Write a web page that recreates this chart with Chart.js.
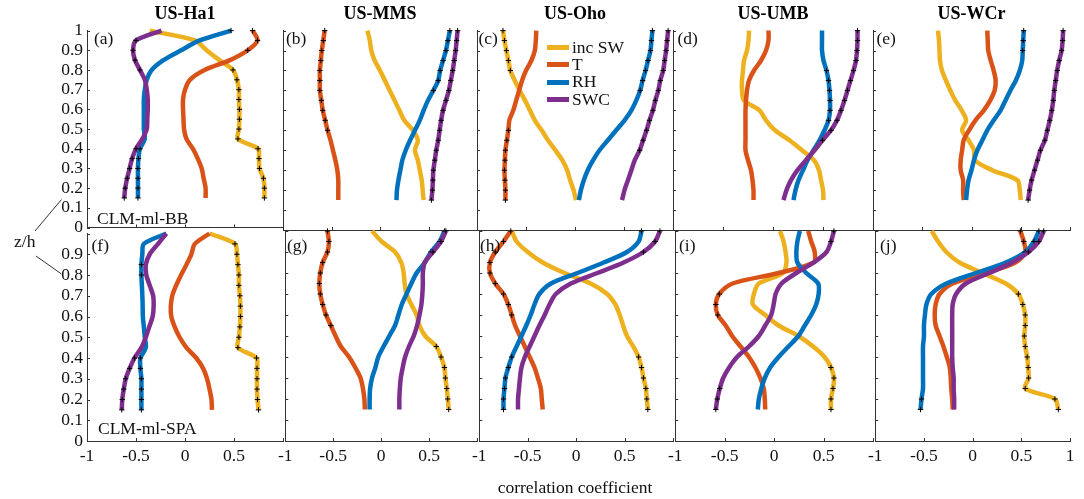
<!DOCTYPE html>
<html lang="en">
<head>
<meta charset="UTF-8">
<title>Correlation with z/h: CLM-ml-BB and CLM-ml-SPA</title>
<script src="https://cdn.jsdelivr.net/npm/chart.js"></script>
<style>
    body { margin: 0; background: #fff; font-family: 'Liberation Serif', 'Times New Roman', serif; color: #111; }
    #fig { position: relative; width: 1084px; height: 499px; overflow: hidden; }
    .panel { position: absolute; }
    .note { position: absolute; font-size: 17.5px; line-height: 1; white-space: nowrap; transform: translateY(-50%); }
    .center { transform: translate(-50%, -50%); }
    .legend { position: absolute; left: 547px; top: 38.6px; font-size: 17.5px; line-height: 1; }
    .legend div { display: flex; align-items: center; height: 17.4px; white-space: nowrap; }
    .legend span.swatch { display: inline-block; width: 21.5px; height: 5px; margin-right: 3.5px; }
    svg { position: absolute; left: 0; top: 0; }
</style>
</head>
<body>
<div id="fig">
    <svg width="1084" height="499">
        <line x1="35" y1="231" x2="61.5" y2="199.5" stroke="#333" stroke-width="1"/>
        <line x1="36" y1="256" x2="61.5" y2="274" stroke="#333" stroke-width="1"/>
    </svg>
    <div class="note" style="left:14px; top:242px;">z/h</div>
    <div class="note" style="left:97px; top:219px;">CLM-ml-BB</div>
    <div class="note" style="left:98px; top:429px;">CLM-ml-SPA</div>
    <div class="note center" style="left:575px; top:488px;">correlation coefficient</div>
    <div class="legend" id="legend"></div>
</div>

<script>
// z/h levels (shared by all profiles)
const ZH = [1.0, 0.95, 0.9, 0.85, 0.8, 0.75, 0.7, 0.65, 0.6, 0.55, 0.5, 0.45, 0.4, 0.35, 0.3, 0.25, 0.2, 0.15];

const SITES = ['US-Ha1', 'US-MMS', 'US-Oho', 'US-UMB', 'US-WCr'];
const MODELS = ['CLM-ml-BB', 'CLM-ml-SPA'];
const VARS = ['inc SW', 'T', 'RH', 'SWC'];
const COLORS = ['#EDB120', '#D95319', '#0072BD', '#7E2F8E'];
const TAGS = ['(a)', '(b)', '(c)', '(d)', '(e)', '(f)', '(g)', '(h)', '(i)', '(j)'];

// ---- CLM-ml-BB (top row) ----
const ha1_bb_sw  = [-0.36, 0.10, 0.22, 0.35, 0.49, 0.53, 0.55, 0.55, 0.555, 0.555, 0.55, 0.54, 0.745, 0.755, 0.76, 0.80, 0.81, 0.81];
const ha1_bb_t   = [0.69, 0.74, 0.64, 0.46, 0.20, 0.05, 0.0, -0.02, -0.02, -0.015, -0.01, 0.015, 0.08, 0.13, 0.17, 0.19, 0.21, 0.21];
const ha1_bb_rh  = [0.47, 0.15, -0.04, -0.22, -0.34, -0.39, -0.41, -0.42, -0.42, -0.42, -0.42, -0.41, -0.46, -0.475, -0.48, -0.48, -0.48, -0.48];
const ha1_bb_swc = [-0.24, -0.50, -0.53, -0.51, -0.46, -0.41, -0.39, -0.38, -0.38, -0.385, -0.39, -0.435, -0.50, -0.54, -0.565, -0.59, -0.61, -0.62];

const mms_bb_sw  = [-0.13, -0.105, -0.09, -0.055, 0.0, 0.05, 0.10, 0.15, 0.20, 0.25, 0.34, 0.39, 0.36, 0.39, 0.41, 0.43, 0.44, 0.45];
const mms_bb_t   = [-0.57, -0.585, -0.60, -0.61, -0.62, -0.62, -0.62, -0.605, -0.59, -0.565, -0.54, -0.51, -0.485, -0.46, -0.44, -0.43, -0.43, -0.43];
const mms_bb_rh  = [0.72, 0.70, 0.68, 0.65, 0.62, 0.60, 0.55, 0.495, 0.45, 0.41, 0.36, 0.31, 0.265, 0.23, 0.21, 0.19, 0.175, 0.17];
const mms_bb_swc = [0.80, 0.79, 0.78, 0.765, 0.75, 0.73, 0.71, 0.68, 0.65, 0.63, 0.615, 0.60, 0.58, 0.565, 0.55, 0.545, 0.54, 0.53];

const oho_bb_sw  = [-0.735, -0.72, -0.70, -0.68, -0.66, -0.615, -0.565, -0.51, -0.46, -0.41, -0.34, -0.275, -0.20, -0.13, -0.08, -0.05, -0.015, 0.01];
const oho_bb_t   = [-0.395, -0.40, -0.41, -0.445, -0.50, -0.54, -0.57, -0.60, -0.63, -0.67, -0.68, -0.695, -0.71, -0.715, -0.72, -0.715, -0.71, -0.71];
const oho_bb_rh  = [0.79, 0.78, 0.77, 0.745, 0.72, 0.69, 0.665, 0.625, 0.575, 0.505, 0.42, 0.335, 0.25, 0.185, 0.13, 0.09, 0.06, 0.04];
const oho_bb_swc = [0.95, 0.94, 0.93, 0.915, 0.90, 0.87, 0.85, 0.82, 0.795, 0.76, 0.73, 0.695, 0.66, 0.61, 0.575, 0.54, 0.505, 0.48];

const umb_bb_sw  = [-0.24, -0.245, -0.26, -0.29, -0.30, -0.31, -0.31, -0.29, -0.135, -0.07, 0.02, 0.165, 0.29, 0.41, 0.46, 0.48, 0.50, 0.505];
const umb_bb_t   = [-0.045, -0.045, -0.07, -0.12, -0.19, -0.24, -0.26, -0.27, -0.275, -0.275, -0.275, -0.275, -0.275, -0.25, -0.22, -0.205, -0.195, -0.195];
const umb_bb_rh  = [0.49, 0.49, 0.49, 0.505, 0.535, 0.555, 0.565, 0.57, 0.57, 0.555, 0.515, 0.465, 0.405, 0.345, 0.30, 0.255, 0.225, 0.205];
const umb_bb_swc = [0.845, 0.845, 0.84, 0.83, 0.805, 0.775, 0.745, 0.715, 0.68, 0.64, 0.58, 0.495, 0.415, 0.33, 0.245, 0.18, 0.135, 0.105];

const wcr_bb_sw  = [-0.34, -0.33, -0.325, -0.32, -0.30, -0.26, -0.215, -0.165, -0.10, -0.055, -0.095, -0.03, 0.025, 0.035, 0.21, 0.465, 0.49, 0.50];
const wcr_bb_t   = [0.16, 0.165, 0.17, 0.195, 0.225, 0.245, 0.235, 0.19, 0.125, 0.04, -0.025, -0.08, -0.095, -0.11, -0.11, -0.085, -0.085, -0.08];
const wcr_bb_rh  = [0.53, 0.525, 0.52, 0.515, 0.49, 0.45, 0.395, 0.345, 0.295, 0.225, 0.16, 0.11, 0.06, 0.025, 0.0, -0.03, -0.045, -0.055];
const wcr_bb_swc = [0.93, 0.925, 0.915, 0.89, 0.87, 0.855, 0.84, 0.83, 0.815, 0.795, 0.77, 0.745, 0.70, 0.67, 0.64, 0.61, 0.59, 0.575];

// ---- CLM-ml-SPA (bottom row) ----
const ha1_spa_sw  = [0.25, 0.51, 0.53, 0.54, 0.55, 0.55, 0.56, 0.565, 0.565, 0.56, 0.55, 0.54, 0.73, 0.735, 0.735, 0.735, 0.74, 0.75];
const ha1_spa_t   = [0.25, 0.10, 0.065, 0.015, -0.04, -0.09, -0.13, -0.145, -0.14, -0.105, -0.055, 0.015, 0.115, 0.185, 0.225, 0.25, 0.27, 0.275];
const ha1_spa_rh  = [-0.19, -0.42, -0.435, -0.445, -0.445, -0.44, -0.435, -0.432, -0.43, -0.42, -0.41, -0.40, -0.455, -0.455, -0.445, -0.445, -0.445, -0.445];
const ha1_spa_swc = [-0.19, -0.275, -0.36, -0.40, -0.395, -0.36, -0.325, -0.32, -0.33, -0.365, -0.40, -0.445, -0.515, -0.565, -0.605, -0.625, -0.64, -0.645];

const mms_spa_sw  = [-0.095, 0.005, 0.145, 0.21, 0.235, 0.245, 0.265, 0.315, 0.37, 0.40, 0.46, 0.575, 0.625, 0.66, 0.67, 0.685, 0.695, 0.705];
const mms_spa_t   = [-0.56, -0.545, -0.56, -0.61, -0.635, -0.645, -0.635, -0.61, -0.575, -0.525, -0.475, -0.42, -0.335, -0.27, -0.215, -0.19, -0.175, -0.17];
const mms_spa_rh  = [0.66, 0.61, 0.52, 0.455, 0.37, 0.315, 0.265, 0.215, 0.18, 0.145, 0.085, 0.025, -0.03, -0.06, -0.095, -0.115, -0.12, -0.12];
const mms_spa_swc = [0.675, 0.625, 0.54, 0.455, 0.435, 0.435, 0.43, 0.42, 0.40, 0.375, 0.34, 0.29, 0.25, 0.225, 0.205, 0.195, 0.19, 0.19];

const oho_spa_sw  = [-0.665, -0.615, -0.50, -0.345, -0.12, 0.15, 0.32, 0.405, 0.45, 0.485, 0.525, 0.59, 0.645, 0.675, 0.695, 0.72, 0.73, 0.74];
const oho_spa_t   = [-0.675, -0.75, -0.835, -0.89, -0.89, -0.835, -0.75, -0.70, -0.665, -0.63, -0.58, -0.53, -0.48, -0.43, -0.395, -0.365, -0.355, -0.345];
const oho_spa_rh  = [0.675, 0.645, 0.525, 0.285, 0.015, -0.26, -0.38, -0.43, -0.47, -0.515, -0.565, -0.615, -0.665, -0.70, -0.73, -0.74, -0.75, -0.75];
const oho_spa_swc = [0.865, 0.815, 0.695, 0.49, 0.22, -0.055, -0.21, -0.275, -0.325, -0.38, -0.43, -0.48, -0.53, -0.565, -0.58, -0.59, -0.60, -0.60];

const umb_spa_sw  = [0.06, 0.095, 0.115, 0.125, 0.09, -0.155, -0.205, -0.215, -0.09, 0.045, 0.245, 0.395, 0.51, 0.575, 0.605, 0.595, 0.575, 0.575];
const umb_spa_t   = [0.345, 0.375, 0.41, 0.40, 0.045, -0.42, -0.555, -0.59, -0.57, -0.49, -0.425, -0.34, -0.255, -0.19, -0.14, -0.105, -0.095, -0.09];
const umb_spa_rh  = [0.26, 0.235, 0.225, 0.235, 0.325, 0.445, 0.45, 0.425, 0.375, 0.31, 0.245, 0.145, 0.045, -0.04, -0.095, -0.13, -0.155, -0.165];
const umb_spa_swc = [0.605, 0.575, 0.53, 0.40, 0.225, 0.075, 0.015, -0.005, -0.03, -0.09, -0.155, -0.255, -0.375, -0.455, -0.515, -0.55, -0.575, -0.59];

const wcr_spa_sw  = [-0.42, -0.355, -0.27, -0.135, 0.10, 0.34, 0.47, 0.515, 0.54, 0.54, 0.53, 0.54, 0.56, 0.57, 0.575, 0.54, 0.845, 0.88];
const wcr_spa_t   = [0.49, 0.525, 0.54, 0.44, 0.135, -0.205, -0.34, -0.38, -0.39, -0.38, -0.34, -0.30, -0.265, -0.235, -0.225, -0.22, -0.21, -0.205];
const wcr_spa_rh  = [0.68, 0.63, 0.54, 0.34, 0.035, -0.27, -0.425, -0.475, -0.49, -0.50, -0.50, -0.51, -0.51, -0.51, -0.51, -0.51, -0.525, -0.535];
const wcr_spa_swc = [0.73, 0.68, 0.575, 0.405, 0.17, -0.07, -0.17, -0.205, -0.21, -0.21, -0.21, -0.21, -0.21, -0.205, -0.195, -0.195, -0.19, -0.19];

// significant (+ marked) z/h ranges, per variable: inc SW, T, RH, SWC
const ha1_bb_sig  = [[[0.15, 0.8]], [[0.87, 1]], [[0.15, 0.43], [1, 1]], [[0.15, 0.43], [0.78, 0.96]]];
const mms_bb_sig  = [[], [[0.47, 1]], [[0.67, 1]], [[0.15, 1]]];
const oho_bb_sig  = [[[0.8, 1]], [[0.15, 0.5]], [[0.68, 1]], [[0.37, 1]]];
const umb_bb_sig  = [[], [], [[0.52, 0.82]], [[0.43, 1]]];
const wcr_bb_sig  = [[], [], [[0.87, 1]], [[0.15, 1]]];
const ha1_spa_sig = [[[0.15, 0.41], [0.43, 0.97]], [], [[0.15, 0.42], [0.78, 0.88]], [[0.15, 0.43]]];
const mms_spa_sig = [[[0.15, 0.48]], [[0.55, 1]], [[0.9, 1]], [[0.87, 1]]];
const oho_spa_sig = [[[0.15, 0.4]], [[0.6, 1]], [[0.15, 0.42], [0.97, 1]], [[0.9, 1]]];
const umb_spa_sig = [[[0.15, 0.37]], [[0.6, 0.74]], [], [[0.15, 0.27], [0.92, 1]]];
const wcr_spa_sig = [[[0.15, 0.7]], [[0.87, 1]], [[0.15, 0.22], [0.9, 1]], [[0.88, 1]]];

const PANELS = [
    [ha1_bb_sw, ha1_bb_t, ha1_bb_rh, ha1_bb_swc, ha1_bb_sig],
    [mms_bb_sw, mms_bb_t, mms_bb_rh, mms_bb_swc, mms_bb_sig],
    [oho_bb_sw, oho_bb_t, oho_bb_rh, oho_bb_swc, oho_bb_sig],
    [umb_bb_sw, umb_bb_t, umb_bb_rh, umb_bb_swc, umb_bb_sig],
    [wcr_bb_sw, wcr_bb_t, wcr_bb_rh, wcr_bb_swc, wcr_bb_sig],
    [ha1_spa_sw, ha1_spa_t, ha1_spa_rh, ha1_spa_swc, ha1_spa_sig],
    [mms_spa_sw, mms_spa_t, mms_spa_rh, mms_spa_swc, mms_spa_sig],
    [oho_spa_sw, oho_spa_t, oho_spa_rh, oho_spa_swc, oho_spa_sig],
    [umb_spa_sw, umb_spa_t, umb_spa_rh, umb_spa_swc, umb_spa_sig],
    [wcr_spa_sw, wcr_spa_t, wcr_spa_rh, wcr_spa_swc, wcr_spa_sig]
];

// layout of the subplot grid (pixels)
const LX = [87, 283, 477, 673, 873];
const RX = [283, 477, 673, 873, 1070];
const PAD = 10, YW = 40, XH = 34;
const TAG_X = [[94, 286, 478.5, 677.5, 876.5], [91.5, 287, 480, 679, 880]];
const TAG_Y = [38.5, 246];
const AXIS = '#333';
const FONT = { family: "'Liberation Serif', 'Times New Roman', serif", size: 17.5 };

Chart.defaults.devicePixelRatio = 1;

const inSig = (z, ranges) => ranges.some(r => z >= r[0] - 1e-6 && z <= r[1] + 1e-6);

// MATLAB-like ticks pointing into the axes
const innerTicks = {
    id: 'innerTicks',
    beforeDatasetsDraw(chart) {
        const { ctx, chartArea: a, scales: { x, y } } = chart;
        ctx.save();
        ctx.strokeStyle = AXIS;
        ctx.lineWidth = 1;
        ctx.beginPath();
        y.ticks.forEach(t => {
            const p = Math.round(y.getPixelForValue(t.value)) + 0.5;
            ctx.moveTo(a.left, p); ctx.lineTo(a.left + 3, p);
        });
        x.ticks.forEach(t => {
            const p = Math.round(x.getPixelForValue(t.value)) + 0.5;
            ctx.moveTo(p, a.bottom); ctx.lineTo(p, a.bottom - 3);
        });
        ctx.stroke();
        ctx.restore();
    }
};

const fig = document.getElementById('fig');

PANELS.forEach((p, idx) => {
    const row = Math.floor(idx / 5), col = idx % 5;
    const extra = col === 0 ? YW : 0;
    const box = document.createElement('div');
    box.className = 'panel';
    box.style.left = (LX[col] - PAD - extra) + 'px';
    box.style.width = (RX[col] - LX[col] + 2 * PAD + extra) + 'px';
    box.style.top = (row === 0 ? 0 : 219) + 'px';
    box.style.height = (row === 0 ? 242 : 222 + XH) + 'px';
    const cv = document.createElement('canvas');
    box.appendChild(cv);
    fig.insertBefore(box, fig.querySelector('.note'));

    const tag = document.createElement('div');
    tag.className = 'note';
    tag.style.left = TAG_X[row][col] + 'px';
    tag.style.top = TAG_Y[row] + 'px';
    tag.textContent = TAGS[idx];
    fig.appendChild(tag);

    new Chart(cv, {
        type: 'scatter',
        data: {
            datasets: VARS.map((name, k) => ({
                label: name,
                data: ZH.map((z, i) => ({ x: p[k][i], y: z })),
                showLine: true,
                borderColor: COLORS[k],
                backgroundColor: COLORS[k],
                borderWidth: 4.5,
                borderJoinStyle: 'round',
                tension: 0.3,
                pointStyle: 'cross',
                pointBorderColor: '#000',
                pointBorderWidth: 1,
                pointRadius: c => (c.type === 'data' && inSig(c.raw.y, p[4][k])) ? 2.7 : 0,
                pointHoverRadius: 0,
                clip: false,
                order: 3 - k
            }))
        },
        options: {
            responsive: true,
            maintainAspectRatio: false,
            animation: false,
            events: [],
            layout: {
                autoPadding: false,
                padding: { left: PAD, right: PAD, top: row === 0 ? 0 : 12, bottom: row === 0 ? 12 : 0 }
            },
            plugins: {
                legend: { display: false },
                tooltip: { enabled: false },
                title: {
                    display: row === 0,
                    text: SITES[col],
                    fullSize: false,
                    color: '#000',
                    font: { family: FONT.family, size: 18, weight: 'bold' },
                    padding: { top: 4, bottom: 5 }
                }
            },
            scales: {
                x: {
                    type: 'linear', min: -1, max: 1,
                    ticks: {
                        display: row === 1, stepSize: 0.5, autoSkip: false, maxRotation: 0,
                        padding: 5, font: FONT, color: '#111',
                        callback: v => (v === 1 && col < 4) ? '' : String(v)
                    },
                    grid: { display: true, drawOnChartArea: false, drawTicks: false },
                    border: { color: AXIS, width: 1 },
                    afterFit: s => { s.height = row === 1 ? XH : 0; }
                },
                y: {
                    type: 'linear', min: 0, max: 1,
                    ticks: {
                        display: col === 0, stepSize: 0.1, autoSkip: false,
                        padding: 4, font: FONT, color: '#111',
                        callback: v => {
                            const r = Math.round(v * 10) / 10;
                            return (row === 1 && r === 1) ? '' : String(r);
                        }
                    },
                    grid: { display: true, drawOnChartArea: false, drawTicks: false },
                    border: { color: AXIS, width: 1 },
                    afterFit: s => { s.width = extra; }
                }
            }
        },
        plugins: [innerTicks]
    });
});

// legend inside panel (c)
const legend = document.getElementById('legend');
VARS.forEach((name, k) => {
    const r = document.createElement('div');
    const sw = document.createElement('span');
    sw.className = 'swatch';
    sw.style.background = COLORS[k];
    r.appendChild(sw);
    r.appendChild(document.createTextNode(name));
    legend.appendChild(r);
});
</script>
</body>
</html>
